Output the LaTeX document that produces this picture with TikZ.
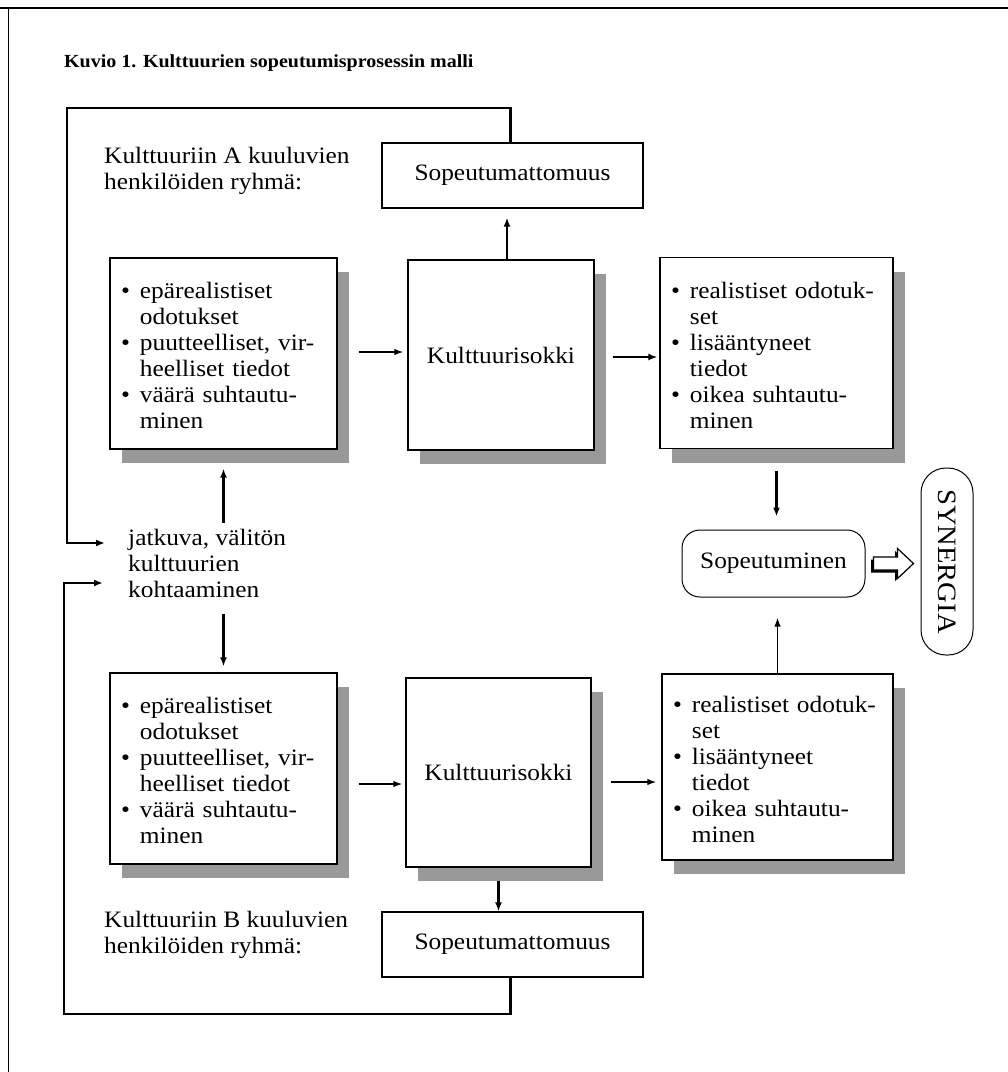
\documentclass[tikz,border=0pt]{standalone}
\usepackage{fontspec}
\setmainfont{Liberation Serif}[FakeStretch=1.08]
\usetikzlibrary{arrows.meta,shadows}
\newcommand{\bodyfont}{\fontsize{23.5}{26}\selectfont}
\newcommand{\titlefont}{\fontsize{18.5}{22}\selectfont\bfseries}
\newcommand{\listshift}[1]{\raisebox{-5pt}[\height][\depth]{#1}}
\tikzset{
  arr/.style={line width=1.6pt,-{Latex[length=9pt,width=6.5pt]}},
  thickarr/.style={line width=2.3pt,-{Latex[length=9pt,width=7pt]}},
  loopline/.style={line width=2.6pt,-{Latex[length=9pt,width=7pt]}},
  shadowbox/.style={draw,line width=1.2pt,fill=white,font=\bodyfont,
    drop shadow={shadow xshift=12pt,shadow yshift=-14pt,fill=black!40,opacity=1}},
  listbox/.style={shadowbox,text width=#1,inner xsep=11pt,inner ysep=0pt,align=left,minimum height=191pt},
  plainbox/.style={draw,line width=1.3pt,fill=white,font=\bodyfont,inner sep=0pt},
  plaintext/.style={font=\bodyfont,align=left,inner sep=0pt}
}
\begin{document}
\begin{tikzpicture}[x=1pt,y=1pt]
\useasboundingbox (0,0) rectangle (1008,-1072);
% page frame
\draw[line width=1.3pt] (0,-8) -- (1008,-8);
\draw[line width=1pt] (8,-8) -- (8,-1072);
% title
\node[anchor=west,inner sep=0pt,font=\titlefont] (title) at (64,-63) {Kuvio 1. Kulttuurien sopeutumisprosessin malli};
% group labels
\node[plaintext,anchor=west] (grpA) at (104,-171) {Kulttuuriin A kuuluvien\\henkilöiden ryhmä:};
\node[plaintext,anchor=west] (grpB) at (104,-935) {Kulttuuriin B kuuluvien\\henkilöiden ryhmä:};
% top row
\node[plainbox,minimum width=261pt,minimum height=65pt] (topsop) at (512.5,-175.5) {Sopeutumattomuus};
\node[listbox=205pt] (a1) at (223.5,-353.5) {\listshift{%
\begin{tabular}{@{}l@{\hspace{10pt}}l@{}}
\textbullet & epärealistiset\\
 & odotukset\\
\textbullet & puutteelliset, vir-\\
 & heelliset tiedot\\
\textbullet & väärä suhtautu-\\
 & minen
\end{tabular}}};
\node[shadowbox,minimum width=186pt,minimum height=190pt] (k1) at (501,-355) {Kulttuurisokki};
\node[listbox=211pt] (a3) at (776.5,-353) {\listshift{%
\begin{tabular}{@{}l@{\hspace{10pt}}l@{}}
\textbullet & realistiset odotuk-\\
 & set\\
\textbullet & lisääntyneet\\
 & tiedot\\
\textbullet & oikea suhtautu-\\
 & minen
\end{tabular}}};
% middle
\node[plaintext,anchor=west] (mid) at (128,-563) {jatkuva, välitön\\kulttuurien\\kohtaaminen};
\node[draw,line width=1pt,rounded corners=18pt,minimum width=183pt,minimum height=67pt,font=\bodyfont] (sop) at (773.5,-563.5) {Sopeutuminen};
\node[draw,line width=1pt,rounded corners=25pt,minimum width=187pt,minimum height=52pt,font=\fontsize{26.5}{28}\selectfont,inner xsep=2pt,rotate=-90] (syn) at (947,-561.5) {SYNERGIA};
% bottom row
\node[listbox=205pt] (b1) at (223.5,-768.5) {\listshift{%
\begin{tabular}{@{}l@{\hspace{10pt}}l@{}}
\textbullet & epärealistiset\\
 & odotukset\\
\textbullet & puutteelliset, vir-\\
 & heelliset tiedot\\
\textbullet & väärä suhtautu-\\
 & minen
\end{tabular}}};
\node[shadowbox,minimum width=185pt,minimum height=189pt] (k2) at (498.5,-772.5) {Kulttuurisokki};
\node[listbox=209pt,minimum height=186pt] (b3) at (777.5,-767) {\listshift{%
\begin{tabular}{@{}l@{\hspace{10pt}}l@{}}
\textbullet & realistiset odotuk-\\
 & set\\
\textbullet & lisääntyneet\\
 & tiedot\\
\textbullet & oikea suhtautu-\\
 & minen
\end{tabular}}};
\node[plainbox,minimum width=261pt,minimum height=65pt] (botsop) at (512.5,-944.5) {Sopeutumattomuus};
% loop coordinates
\coordinate (ca) at (67,-108);
\coordinate (inA) at (105,-543);
\coordinate (cb) at (64,-1014);
\coordinate (inB) at (103,-583);
% loops
\draw[loopline] ([xshift=-2pt]topsop.north) |- (ca) |- (inA);
\draw[loopline] ([xshift=-2pt]botsop.south) |- (cb) |- (inB);
% connectors top row
\draw[thickarr,shorten >=9pt] ([xshift=6pt]k1.north) -- ([xshift=6pt]k1.north |- topsop.south);
\draw[arr,shorten <=21pt,shorten >=4pt] ([yshift=1.5pt]a1.east) -- ([yshift=1.5pt]a1.east -| k1.west);
\draw[thickarr,shorten <=18pt,shorten >=2pt] ([yshift=-2pt]k1.east) -- ([yshift=-2pt]k1.east -| a3.west);
\draw[thickarr,shorten <=22pt,shorten >=13pt] (a3.south) -- (a3.south |- sop.north);
% middle connectors
\draw[thickarr] ([yshift=-73pt]a1.south) -- ([yshift=-19pt]a1.south);
\draw[thickarr] ([yshift=58pt]b1.north) -- ([yshift=6pt]b1.north);
% bottom row connectors
\draw[arr,shorten <=21pt,shorten >=3pt] ([yshift=-15.5pt]b1.east) -- ([yshift=-15.5pt]b1.east -| k2.west);
\draw[arr,shorten <=19pt,shorten >=5pt] ([yshift=-9.5pt]k2.east) -- ([yshift=-9.5pt]k2.east -| b3.west);
\draw[arr,shorten >=20pt] (b3.north) -- (b3.north |- sop.south);
\draw[thickarr,shorten <=13pt] (k2.south) -- (k2.south |- botsop.north);
% block arrow Sopeutuminen -> SYNERGIA
\coordinate (ba) at ([xshift=8pt]sop.east);
\fill[black] ([shift={(-2.5,-2.5)}]ba) ++(0,6.5) -- ++(24,0) -- ++(0,8.5) -- ++(16,-15) -- ++(-16,-15) -- ++(0,8.5) -- ++(-24,0) -- cycle;
\draw[line width=1.2pt,fill=white] (ba) ++(0,6.5) -- ++(24,0) -- ++(0,8.5) -- ++(16,-15) -- ++(-16,-15) -- ++(0,8.5) -- ++(-24,0) -- cycle;
\end{tikzpicture}
\end{document}
